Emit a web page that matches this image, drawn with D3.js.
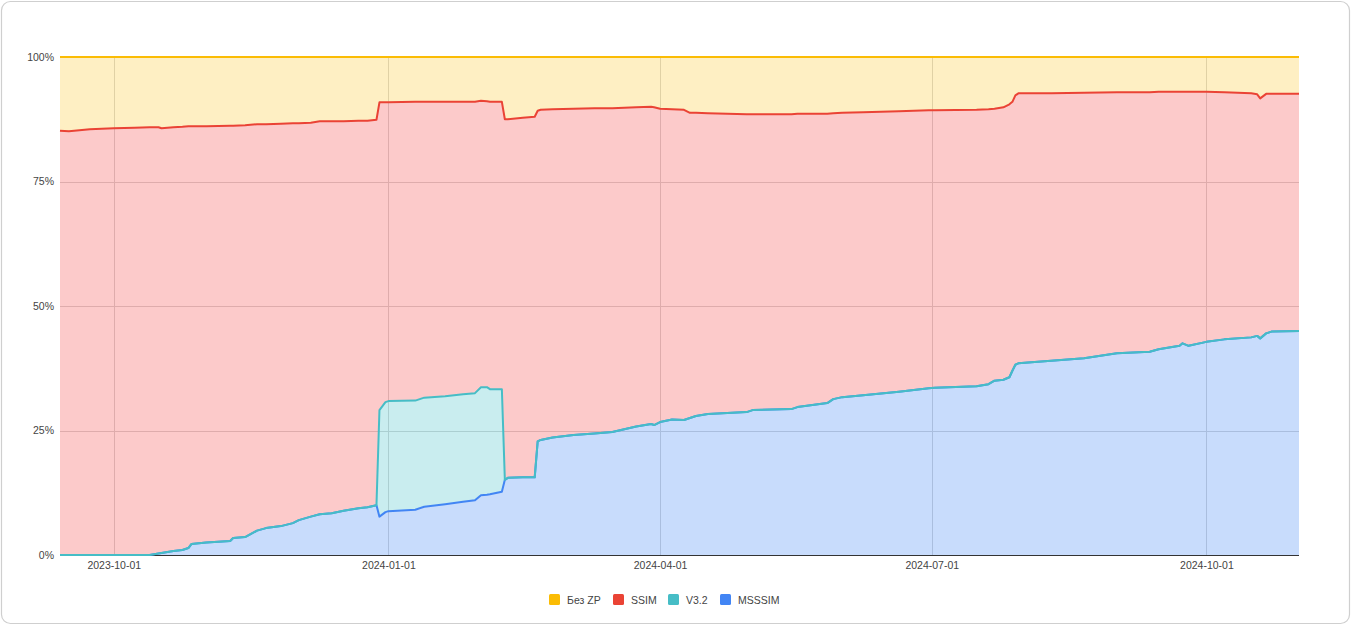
<!DOCTYPE html>
<html>
<head>
<meta charset="utf-8">
<script src="https://cdn.jsdelivr.net/npm/d3@7"></script>
<style>
  html, body { margin: 0; padding: 0; background: #fff; }
  svg { display: block; }
  text { font-family: "Liberation Sans", Arial, sans-serif; }
</style>
</head>
<body>
<svg id="chart" width="1352" height="626"></svg>
<script>
// ---------- data (shares, %) ----------
const dates = ["2023-09-13","2023-09-16","2023-09-23","2023-10-01","2023-10-08","2023-10-13","2023-10-16","2023-10-17","2023-10-21","2023-10-24","2023-10-26","2023-10-27","2023-11-01","2023-11-09","2023-11-10","2023-11-14","2023-11-18","2023-11-21","2023-11-26","2023-11-30","2023-12-02","2023-12-06","2023-12-09","2023-12-13","2023-12-17","2023-12-22","2023-12-25","2023-12-28","2023-12-29","2023-12-31","2024-01-01","2024-01-10","2024-01-13","2024-01-20","2024-01-26","2024-01-30","2024-02-01","2024-02-03","2024-02-04","2024-02-08","2024-02-09","2024-02-10","2024-02-15","2024-02-19","2024-02-20","2024-02-21","2024-02-25","2024-03-03","2024-03-10","2024-03-16","2024-03-24","2024-03-29","2024-03-30","2024-04-01","2024-04-05","2024-04-09","2024-04-11","2024-04-13","2024-04-17","2024-04-30","2024-05-02","2024-05-15","2024-05-17","2024-05-27","2024-05-29","2024-06-01","2024-06-08","2024-06-20","2024-06-30","2024-07-02","2024-07-16","2024-07-20","2024-07-22","2024-07-25","2024-07-27","2024-07-28","2024-07-29","2024-07-30","2024-08-10","2024-08-21","2024-09-01","2024-09-12","2024-09-15","2024-09-22","2024-09-23","2024-09-25","2024-10-01","2024-10-07","2024-10-16","2024-10-18","2024-10-19","2024-10-21","2024-10-23","2024-11-01"];

const msssim = [0,0,0,0,0,0,0.3,0.4,0.8,1.0,1.4,2.2,2.5,2.8,3.4,3.6,4.9,5.4,5.8,6.4,7.0,7.7,8.2,8.4,8.9,9.4,9.6,10.0,7.7,8.6,8.8,9.1,9.7,10.2,10.7,11.0,12.0,12.1,12.2,12.7,15.1,15.5,15.6,15.6,22.8,23.1,23.6,24.1,24.4,24.7,25.8,26.3,26.1,26.7,27.2,27.1,27.5,27.9,28.3,28.7,29.1,29.3,29.7,30.5,31.3,31.7,32.1,32.8,33.5,33.6,33.9,34.3,35.0,35.2,35.7,37.0,38.2,38.5,39.0,39.5,40.5,40.8,41.3,42.0,42.5,42.0,42.8,43.3,43.7,44.0,43.5,44.5,44.9,45.0];

const v32 = [0,0,0,0,0,0,0,0,0,0,0,0,0,0,0,0,0,0,0,0,0,0,0,0,0,0,0,0,21.4,22.1,22.1,21.9,21.9,21.7,21.6,21.5,21.7,21.6,21.1,20.6,0,0,0,0,0,0,0,0,0,0,0,0,0,0,0,0,0,0,0,0,0,0,0,0,0,0,0,0,0,0,0,0,0,0,0,0,0,0,0,0,0,0,0,0,0,0,0,0,0,0,0,0,0,0];

const ssim = [85.2,85.1,85.5,85.7,85.8,85.9,85.6,85.3,85.1,85.0,84.7,83.9,83.6,83.4,82.8,82.7,81.6,81.1,80.8,80.3,79.7,79.1,78.9,78.7,78.2,77.8,77.6,77.4,61.8,60.2,60.0,60.0,59.4,59.1,58.7,58.5,57.5,57.4,57.7,57.7,72.4,72.0,72.2,72.4,66.4,66.3,65.9,65.5,65.3,65.0,64.1,63.7,63.8,62.9,62.3,62.3,61.3,60.9,60.4,59.8,59.4,59.2,58.9,58.1,57.4,57.1,56.8,56.3,55.8,55.7,55.5,55.2,54.6,54.7,54.8,54.0,54.1,54.2,53.7,53.3,52.4,52.1,51.7,51.0,50.5,51.0,50.2,49.6,49.0,48.5,48.2,48.1,47.7,47.6];

const bezZP = [14.8,14.9,14.5,14.3,14.2,14.1,14.1,14.3,14.1,14.0,13.9,13.9,13.9,13.8,13.8,13.7,13.5,13.5,13.4,13.3,13.3,13.2,12.9,12.9,12.9,12.8,12.8,12.6,9.1,9.1,9.1,9.0,9.0,9.0,9.0,9.0,8.8,8.9,9.0,9.0,12.5,12.5,12.2,12.0,10.8,10.6,10.5,10.4,10.3,10.3,10.1,10.0,10.1,10.4,10.5,10.6,11.2,11.2,11.3,11.5,11.5,11.5,11.4,11.4,11.3,11.2,11.1,10.9,10.7,10.7,10.6,10.5,10.4,10.1,9.5,9.0,7.7,7.3,7.3,7.2,7.1,7.1,7.0,7.0,7.0,7.0,7.0,7.1,7.3,7.5,8.3,7.4,7.4,7.4];

const seriesKeys   = ["msssim", "v32", "ssim", "bezZP"];
const seriesNames  = ["MSSSIM", "V3.2", "SSIM", "Без ZP"];
const seriesColors = ["#4285f4", "#46bdc6", "#ea4335", "#fbbc04"];
const areaColors   = ["#4a8cf4", "#4cc3cb", "#f5504f", "#fcc938"];
const legendOrder  = ["bezZP", "ssim", "v32", "msssim"];

const xTickLabels = ["2023-10-01", "2024-01-01", "2024-04-01", "2024-07-01", "2024-10-01"];
const yTickValues = [0, 0.25, 0.5, 0.75, 1];
const domainStart = "2023-09-13";
const domainEnd   = "2024-11-01";

// ---------- build table ----------
const parse = d3.utcParse("%Y-%m-%d");
const table = dates.map((d, i) => ({
  date: parse(d),
  msssim: msssim[i], v32: v32[i], ssim: ssim[i], bezZP: bezZP[i]
}));

const svg = d3.select("#chart");
const W = 1352, H = 626;
const m = { left: 60, right: 1299, top: 57, bottom: 555 };

// frame
svg.append("rect")
  .attr("x", 1.5).attr("y", 1.5).attr("width", W - 4).attr("height", H - 4)
  .attr("rx", 9).attr("fill", "#fff").attr("stroke", "#cfcfcf").attr("stroke-width", 1.2);

const x = d3.scaleUtc().domain([parse(domainStart), parse(domainEnd)]).range([m.left, m.right]);
const y = d3.scaleLinear().domain([0, 1]).range([m.bottom, m.top]);

const stack = d3.stack().keys(seriesKeys).order(d3.stackOrderNone).offset(d3.stackOffsetExpand);
const layers = stack(table);

// gridlines
const grid = svg.append("g");
grid.selectAll("line.h").data(yTickValues.filter(v => v > 0)).join("line")
  .attr("x1", m.left).attr("x2", m.right)
  .attr("y1", d => Math.round(y(d)) + 0.5).attr("y2", d => Math.round(y(d)) + 0.5)
  .attr("stroke", "#d4d4d4").attr("stroke-width", 1);
grid.selectAll("line.v").data(xTickLabels.map(parse)).join("line")
  .attr("x1", d => Math.round(x(d)) + 0.5).attr("x2", d => Math.round(x(d)) + 0.5)
  .attr("y1", m.top).attr("y2", m.bottom)
  .attr("stroke", "#d4d4d4").attr("stroke-width", 1);

// areas
const area = d3.area().x(d => x(d.data.date)).y0(d => y(d[0])).y1(d => y(d[1]));
svg.append("g").selectAll("path").data(layers).join("path")
  .attr("d", area)
  .attr("fill", (d, i) => areaColors[i])
  .attr("fill-opacity", 0.3)
  .attr("stroke", "none");

// baseline
svg.append("line")
  .attr("x1", m.left).attr("x2", m.right)
  .attr("y1", m.bottom + 0.5).attr("y2", m.bottom + 0.5)
  .attr("stroke", "#333").attr("stroke-width", 1);

// lines
const line = d3.line().x(d => x(d.data.date)).y(d => y(d[1]));
svg.append("g").selectAll("path").data(layers).join("path")
  .attr("d", line)
  .attr("fill", "none")
  .attr("stroke", (d, i) => seriesColors[i])
  .attr("stroke-width", 2)
  .attr("stroke-linejoin", "round");

// y axis labels
const yAxis = d3.axisLeft(y).tickValues(yTickValues).tickFormat(d3.format(".0%")).tickSize(0).tickPadding(6);
const gy = svg.append("g").attr("transform", `translate(${m.left},0)`).call(yAxis);
gy.select(".domain").remove();
gy.selectAll("text").attr("fill", "#444").attr("font-size", "10.5px")
  .attr("font-family", "'Liberation Sans', Arial, sans-serif");

// x axis labels
const xAxis = d3.axisBottom(x).tickValues(xTickLabels.map(parse)).tickFormat(d3.utcFormat("%Y-%m-%d")).tickSize(0).tickPadding(7);
const gx = svg.append("g").attr("transform", `translate(0,${m.bottom})`).call(xAxis);
gx.select(".domain").remove();
gx.selectAll("text").attr("fill", "#444").attr("font-size", "10.5px")
  .attr("font-family", "'Liberation Sans', Arial, sans-serif");

// legend
const legend = svg.append("g");
const legendX = [549, 613, 668, 720];
legendOrder.forEach((k, j) => {
  const i = seriesKeys.indexOf(k);
  const g = legend.append("g").attr("transform", `translate(${legendX[j]},594)`);
  g.append("rect").attr("width", 11).attr("height", 11).attr("rx", 1.5).attr("fill", seriesColors[i]);
  g.append("text").attr("x", 18).attr("y", 9.5).attr("font-size", "10.5px").attr("fill", "#444")
    .text(seriesNames[i]);
});
</script>
</body>
</html>
